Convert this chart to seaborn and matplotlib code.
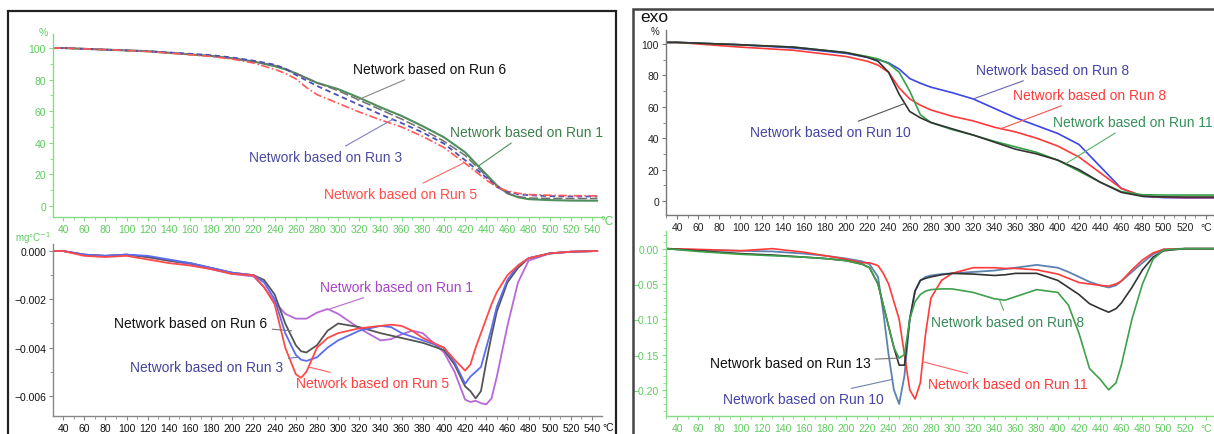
import numpy as np
import pandas as pd
import matplotlib
matplotlib.use("Agg")
import matplotlib.pyplot as plt
from matplotlib.patches import Rectangle
from matplotlib.ticker import MultipleLocator, FixedLocator, FuncFormatter
import seaborn as sns

# ---------------- DATA ----------------
# Left panel, TGA (%)
lt_x = [30, 40, 60, 80, 100, 120, 150, 180, 200, 220, 240, 250, 260, 270, 280, 300, 320, 340, 360, 380, 400, 420, 440, 450, 460, 470, 480, 500, 520, 545]
lt_run6 = [100, 100, 99.5, 99, 98.5, 98, 96.5, 95, 93.5, 91.5, 89, 87, 84, 81, 78, 73, 67, 61, 55, 48.5, 41, 32, 19, 12.5, 8, 6, 5, 4.8, 4.7, 4.7]
lt_run1 = [100, 100, 99.5, 99, 98.5, 98, 96.5, 95, 93.5, 91.5, 88.5, 86.5, 84, 81, 78, 74, 68.5, 62.5, 57, 50.5, 43.5, 34, 20, 13, 8, 5.5, 4.3, 3.7, 3.4, 3.3]
lt_run3 = [100, 100, 99.5, 99, 98.5, 98, 96.8, 95.5, 94, 92, 89.5, 87, 83, 79.5, 76, 70, 64, 58, 52.5, 46.5, 39.5, 29, 18, 12, 9, 7.5, 6.8, 6.2, 6, 6]
lt_run5 = [100, 100, 99.5, 99, 98.5, 97.8, 96.3, 94.7, 93, 90.5, 86.5, 84, 80.5, 75, 70.5, 65, 59.5, 54.5, 50, 44, 37, 27, 16.5, 12, 9.5, 8, 7.2, 6.8, 6.5, 6.4]

# Left panel, DTG (mg/°C, x1e-3)
lb_x = [30, 40, 60, 80, 100, 120, 140, 160, 180, 200, 220, 230, 240, 250, 260, 265, 270, 280, 290, 300, 320, 340, 350, 360, 370, 380, 400, 410, 420, 425, 430, 435, 440, 445, 450, 460, 470, 480, 500, 520, 545]
lb_run6 = [0, 0, -0.15, -0.2, -0.15, -0.25, -0.4, -0.5, -0.7, -0.9, -1.0, -1.2, -1.8, -3.0, -3.9, -4.15, -4.2, -3.9, -3.3, -3.0, -3.15, -3.4, -3.5, -3.6, -3.7, -3.8, -4.1, -4.7, -5.6, -5.8, -6.1, -5.8, -4.6, -3.5, -2.5, -1.3, -0.7, -0.3, -0.1, -0.03, 0]
lb_run1 = [0, 0, -0.15, -0.2, -0.15, -0.25, -0.4, -0.55, -0.75, -0.95, -1.05, -1.5, -2.1, -2.6, -2.8, -2.8, -2.8, -2.55, -2.4, -2.6, -3.2, -3.7, -3.65, -3.45, -3.3, -3.4, -4.2, -5.0, -6.15, -6.25, -6.2, -6.3, -6.35, -6.1, -5.2, -3.1, -1.3, -0.4, -0.1, -0.03, 0]
lb_run3 = [0, 0, -0.15, -0.2, -0.15, -0.2, -0.35, -0.5, -0.7, -0.9, -1.0, -1.3, -2.0, -3.4, -4.3, -4.5, -4.55, -4.4, -4.0, -3.7, -3.3, -3.1, -3.15, -3.4, -3.55, -3.7, -4.0, -4.6, -5.5, -5.2, -5.0, -4.8, -4.0, -3.2, -2.3, -1.2, -0.6, -0.3, -0.1, -0.03, 0]
lb_run5 = [0, 0, -0.2, -0.25, -0.2, -0.35, -0.5, -0.6, -0.75, -0.95, -1.0, -1.5, -2.2, -4.0, -5.1, -5.25, -5.0, -4.0, -3.6, -3.4, -3.2, -3.1, -3.05, -3.1, -3.3, -3.6, -4.0, -4.5, -4.95, -4.7, -4.0, -3.4, -2.8, -2.2, -1.7, -1.0, -0.6, -0.3, -0.1, -0.03, 0]

# Right panel, TGA (%)
rt_x = [30, 40, 60, 80, 100, 150, 200, 220, 230, 240, 250, 260, 270, 280, 300, 320, 340, 360, 380, 400, 420, 440, 460, 480, 500, 520, 550]
rt_blue = [101, 101, 100.5, 100, 99.5, 97.5, 94, 91.5, 90, 88, 84, 78, 75, 72.5, 69, 65, 59, 53, 48, 43, 36, 22, 8, 3, 2.2, 2, 2]
rt_red = [101, 101, 100, 99, 98, 96, 92, 89, 86.5, 82, 72, 65, 61, 58, 54, 51, 47, 44, 40, 35, 28, 18, 8, 3.2, 2.5, 2.2, 2.2]
rt_green = [101, 101, 100.5, 100, 99.5, 98, 94.5, 92, 90.5, 87.5, 82, 70, 55, 50, 45.5, 42, 38, 34.5, 31, 26, 19, 12, 6, 4, 3.8, 3.8, 3.8]
rt_black = [101, 101, 100.5, 100, 99.5, 98, 94.5, 91.5, 89, 82, 68, 57, 53, 50, 46, 42, 37.5, 33, 30, 26, 20, 12, 5.5, 3, 2.6, 2.5, 2.5]

# Right panel, DTG
rb_x = [30, 60, 100, 130, 160, 180, 200, 215, 222, 230, 235, 240, 245, 250, 255, 260, 265, 270, 275, 280, 290, 300, 320, 340, 350, 360, 380, 400, 410, 420, 430, 440, 448, 455, 460, 470, 480, 490, 500, 520, 550]
rb_run10 = [0, -0.002, -0.003, -0.004, -0.007, -0.01, -0.014, -0.018, -0.022, -0.04, -0.09, -0.15, -0.2, -0.22, -0.18, -0.1, -0.06, -0.045, -0.04, -0.038, -0.036, -0.035, -0.033, -0.031, -0.029, -0.027, -0.023, -0.027, -0.033, -0.04, -0.047, -0.052, -0.055, -0.052, -0.046, -0.033, -0.02, -0.008, -0.001, 0, 0]
rb_run11 = [0, -0.001, -0.003, 0.0, -0.005, -0.01, -0.015, -0.02, -0.02, -0.024, -0.035, -0.05, -0.075, -0.1, -0.15, -0.2, -0.213, -0.19, -0.12, -0.07, -0.045, -0.035, -0.027, -0.027, -0.028, -0.028, -0.03, -0.036, -0.042, -0.048, -0.05, -0.052, -0.053, -0.05, -0.046, -0.03, -0.016, -0.006, -0.001, 0, 0]
rb_run13 = [0, -0.003, -0.007, -0.009, -0.012, -0.014, -0.017, -0.022, -0.027, -0.05, -0.08, -0.11, -0.14, -0.165, -0.165, -0.1, -0.06, -0.045, -0.042, -0.04, -0.037, -0.035, -0.036, -0.038, -0.037, -0.035, -0.035, -0.045, -0.055, -0.065, -0.078, -0.085, -0.09, -0.085, -0.077, -0.055, -0.03, -0.012, -0.003, 0, 0]
rb_run8 = [0, -0.004, -0.008, -0.01, -0.012, -0.014, -0.017, -0.022, -0.027, -0.05, -0.08, -0.11, -0.14, -0.155, -0.15, -0.1, -0.075, -0.065, -0.06, -0.058, -0.057, -0.057, -0.062, -0.071, -0.073, -0.068, -0.058, -0.062, -0.08, -0.12, -0.17, -0.185, -0.2, -0.19, -0.165, -0.1, -0.05, -0.015, -0.002, 0, 0]

# ---------------- STYLE ----------------
sns.set_theme(style="ticks")
plt.rcParams['font.family'] = ['Liberation Sans', 'DejaVu Sans']

W, H = 1214, 435
fig = plt.figure(figsize=(W / 100, H / 100), dpi=100)

GREEN_TXT = '#5fcc5f'
GREEN_AX = '#86dc86'

def px_axes(x0, x1, ytop, ybot):
    return fig.add_axes([x0 / W, 1 - ybot / H, (x1 - x0) / W, (ybot - ytop) / H])

def style_axes(ax, col_ax, col_txt):
    for s in ['top', 'right']:
        ax.spines[s].set_visible(False)
    for s in ['left', 'bottom']:
        ax.spines[s].set_color(col_ax)
        ax.spines[s].set_linewidth(1.0)
    ax.tick_params(axis='both', which='major', colors=col_ax, labelcolor=col_txt,
                   labelsize=7.5, length=3, width=0.8, pad=2)
    ax.tick_params(axis='both', which='minor', colors=col_ax, length=2, width=0.6)
    ax.set_xlabel('')
    ax.set_ylabel('')
    ax.set_facecolor('none')

def xticks(ax, lab540):
    ax.xaxis.set_major_locator(FixedLocator(list(range(40, 541, 20))))
    ax.xaxis.set_minor_locator(MultipleLocator(10))
    ax.xaxis.set_major_formatter(FuncFormatter(lambda v, p: lab540 if abs(v - 540) < 1e-6 else f"{v:.0f}"))

# frames
fig.patches.append(Rectangle((8 / W, -0.05), (616 - 8) / W, 1.05 - 12 / H, transform=fig.transFigure,
                             fill=False, edgecolor='#222222', linewidth=1.6))
fig.patches.append(Rectangle((633 / W, -0.05), 0.6, 1.05 - 10 / H, transform=fig.transFigure,
                             fill=False, edgecolor='#444444', linewidth=1.8))

lab_fs = 10

def ann(ax, text, xy, txt_px, color, lcol=None):
    ax.annotate(text, xy=xy, xycoords='data', xytext=(txt_px[0], H - txt_px[1]),
                textcoords='figure pixels', ha='center', va='center', fontsize=lab_fs, color=color,
                arrowprops=dict(arrowstyle='-', color=lcol or color, lw=0.8, shrinkA=1, shrinkB=0),
                annotation_clip=False)

# ---------- left top ----------
ax1 = px_axes(53, 602, 35, 218)
sns.lineplot(x=lt_x, y=lt_run1, ax=ax1, color='#4e8f5c', lw=1.5)
sns.lineplot(x=lt_x, y=lt_run6, ax=ax1, color='#707070', lw=1.1, linestyle=(0, (6, 2)))
sns.lineplot(x=lt_x, y=lt_run3, ax=ax1, color='#4a50b8', lw=1.3, linestyle=(0, (3, 2)))
sns.lineplot(x=lt_x, y=lt_run5, ax=ax1, color='#ff5a5a', lw=1.2, linestyle=(0, (5, 1.5, 1, 1.5)))
ax1.set_xlim(30.5, 549.4)
ax1.set_ylim(-7.0, 108.9)
style_axes(ax1, GREEN_AX, GREEN_TXT)
xticks(ax1, '540')
ax1.yaxis.set_major_locator(FixedLocator([0, 20, 40, 60, 80, 100]))
ax1.yaxis.set_minor_locator(MultipleLocator(10))
fig.text(600 / W, 1 - 222 / H, '°C', color=GREEN_TXT, fontsize=8.5, ha='left', va='center')
fig.text(43 / W, 1 - 33 / H, '%', color=GREEN_TXT, fontsize=7.5, ha='center', va='center')
ann(ax1, 'Network based on Run 6', (318, 67), (430, 70), '#111111', '#888888')
ann(ax1, 'Network based on Run 1', (432, 25), (527, 133), '#3d7f4d', '#4e8f5c')
ann(ax1, 'Network based on Run 3', (352, 55), (326, 158), '#4a4aa0', '#8080c0')
ann(ax1, 'Network based on Run 5', (418, 27), (401, 195), '#ff4c4c', '#ff6a6a')

# ---------- left bottom ----------
ax2 = px_axes(53, 602, 245, 417)
s = 1e-3
sns.lineplot(x=lb_x, y=np.array(lb_run1) * s, ax=ax2, color='#b868d8', lw=1.3)
sns.lineplot(x=lb_x, y=np.array(lb_run6) * s, ax=ax2, color='#555555', lw=1.3)
sns.lineplot(x=lb_x, y=np.array(lb_run3) * s, ax=ax2, color='#5a6cf0', lw=1.3)
sns.lineplot(x=lb_x, y=np.array(lb_run5) * s, ax=ax2, color='#ff4a4a', lw=1.3)
ax2.set_xlim(30.5, 549.4)
ax2.set_ylim(-0.00683, 0.00029)
style_axes(ax2, '#888888', '#111111')
xticks(ax2, '540')
ax2.yaxis.set_major_locator(FixedLocator([-0.006, -0.004, -0.002, 0.0]))
ax2.yaxis.set_minor_locator(MultipleLocator(0.001))
ax2.yaxis.set_major_formatter(FuncFormatter(lambda v, p: f"{v:.3f}".replace('-', '\u2212')))
fig.text(602 / W, 1 - 428 / H, '°C', color='#111111', fontsize=7.5, ha='left', va='center')
fig.text(33 / W, 1 - 238 / H, 'mg°C$^{-1}$', color=GREEN_TXT, fontsize=7, ha='center', va='center')
ann(ax2, 'Network based on Run 1', (292, -0.0024), (396, 288), '#a844c8', '#b868d8')
ann(ax2, 'Network based on Run 6', (256, -0.0033), (191, 324), '#111111', '#777777')
ann(ax2, 'Network based on Run 3', (262, -0.0044), (207, 368), '#44449a', '#7a7ab8')
ann(ax2, 'Network based on Run 5', (272, -0.0048), (373, 384), '#ff4040', '#ff6060')

# ---------- right top ----------
ax3 = px_axes(666, W, 31, 216)
sns.lineplot(x=rt_x, y=rt_blue, ax=ax3, color='#3b45e8', lw=1.2)
sns.lineplot(x=rt_x, y=rt_red, ax=ax3, color='#ff3a3a', lw=1.2)
sns.lineplot(x=rt_x, y=rt_green, ax=ax3, color='#35a048', lw=1.2)
sns.lineplot(x=rt_x, y=rt_black, ax=ax3, color='#333333', lw=1.2)
ax3.set_xlim(29.6, 547.6)
ax3.set_ylim(-8.9, 108.9)
style_axes(ax3, '#777777', '#222222')
xticks(ax3, '°C')
ax3.yaxis.set_major_locator(FixedLocator([0, 20, 40, 60, 80, 100]))
ax3.yaxis.set_minor_locator(MultipleLocator(10))
fig.text(655 / W, 1 - 32 / H, '%', color='#222222', fontsize=7, ha='center', va='center')
fig.text(640 / W, 1 - 18 / H, 'exo', color='#111111', fontsize=12.5, ha='left', va='center')
ann(ax3, 'Network based on Run 8', (320, 65), (1053, 71), '#4444a8', '#6666b8')
ann(ax3, 'Network based on Run 8', (346, 46), (1090, 96), '#ff3a3a', '#ff5050')
ann(ax3, 'Network based on Run 10', (255, 62), (830, 133), '#4444a8', '#555555')
ann(ax3, 'Network based on Run 11', (408, 24), (1133, 123), '#35905a', '#55b065')

# ---------- right bottom ----------
ax4 = px_axes(666, W, 232, 417)
sns.lineplot(x=rb_x, y=rb_run10, ax=ax4, color='#5c82b0', lw=1.3)
sns.lineplot(x=rb_x, y=rb_run11, ax=ax4, color='#ff3a3a', lw=1.2)
sns.lineplot(x=rb_x, y=rb_run13, ax=ax4, color='#333333', lw=1.2)
sns.lineplot(x=rb_x, y=rb_run8, ax=ax4, color='#3fa04c', lw=1.2)
ax4.set_xlim(29.6, 547.6)
ax4.set_ylim(-0.237, 0.025)
style_axes(ax4, GREEN_AX, GREEN_TXT)
xticks(ax4, '°C')
ax4.yaxis.set_major_locator(FixedLocator([-0.20, -0.15, -0.10, -0.05, 0.0]))
ax4.yaxis.set_minor_locator(MultipleLocator(0.01))
ax4.yaxis.set_major_formatter(FuncFormatter(lambda v, p: f"{v:.2f}".replace('-', '\u2212')))
ann(ax4, 'Network based on Run 8', (345, -0.073), (1008, 323), '#3a8a5a', '#55b065')
ann(ax4, 'Network based on Run 13', (249, -0.155), (790, 364), '#111111', '#777777')
ann(ax4, 'Network based on Run 11', (272, -0.16), (1008, 385), '#ff3a3a', '#ff6060')
ann(ax4, 'Network based on Run 10', (244, -0.185), (803, 400), '#4444a8', '#7080b0')

fig.savefig('out.png', dpi=100)
